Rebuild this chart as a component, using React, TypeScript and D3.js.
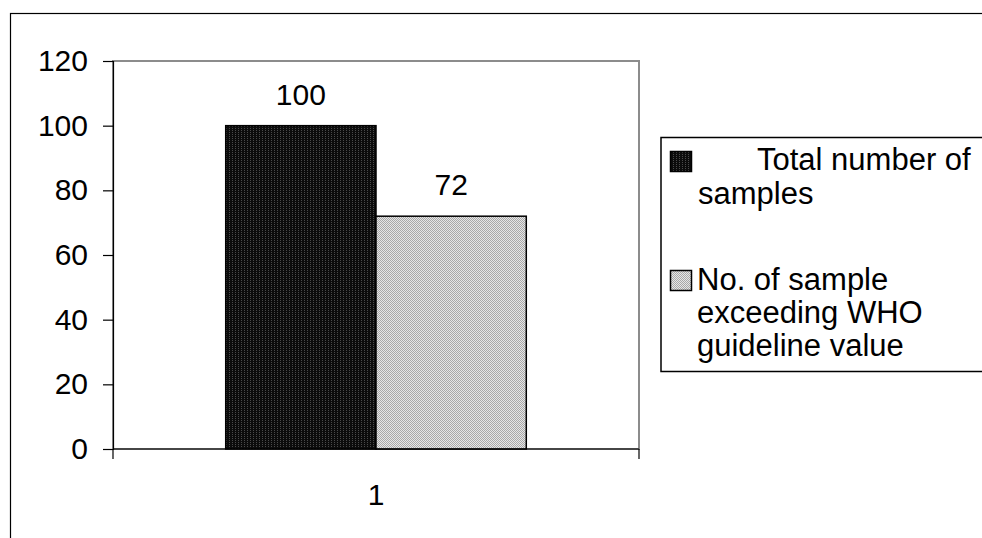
import * as d3 from 'd3'
import { useEffect, useRef } from 'react'

const categories = ['1']
const seriesNames = ['Total number of samples', 'No. of sample exceeding WHO guideline value']
const seriesValues = [100, 72]
const yTicks = [0, 20, 40, 60, 80, 100, 120]
const legendLines = [['Total number of', 'samples'], ['No. of sample', 'exceeding WHO', 'guideline value']]

const W = 982
const H = 538
const FONT = '"Liberation Sans", Arial, sans-serif'

const App = () => {
  const ref = useRef<SVGSVGElement>(null)

  useEffect(() => {
    const svg = d3.select(ref.current)
    svg.selectAll('*').remove()

    const plot = { left: 113, top: 61, right: 639, bottom: 449 }

    const defs = svg.append('defs')
    const dark = defs.append('pattern').attr('id', 'pDark').attr('patternUnits', 'userSpaceOnUse')
      .attr('width', 3).attr('height', 2)
    dark.append('rect').attr('width', 3).attr('height', 2).attr('fill', '#0c0c0c')
    dark.append('rect').attr('x', 1).attr('width', 1).attr('height', 1).attr('fill', '#4a4a4a')
    const light = defs.append('pattern').attr('id', 'pLight').attr('patternUnits', 'userSpaceOnUse')
      .attr('width', 2).attr('height', 2)
    light.append('rect').attr('width', 2).attr('height', 2).attr('fill', '#e6e6e6')
    light.append('rect').attr('width', 1).attr('height', 1).attr('fill', '#a8a8a8')
    light.append('rect').attr('x', 1).attr('y', 1).attr('width', 1).attr('height', 1).attr('fill', '#a8a8a8')
    const fills = ['url(#pDark)', 'url(#pLight)']

    // outer chart border
    svg.append('rect').attr('x', 10.5).attr('y', 13.5).attr('width', 1200).attr('height', 800)
      .attr('fill', '#fff').attr('stroke', '#000').attr('stroke-width', 1.2)

    const x0 = d3.scaleBand().domain(categories).range([plot.left, plot.right]).padding(0)
    const x1 = d3.scaleBand().domain(seriesNames).range([0, x0.bandwidth()]).paddingInner(0).paddingOuter(0.75)
    const y = d3.scaleLinear().domain([0, 120]).range([plot.bottom, plot.top])

    // plot area border
    svg.append('rect').attr('x', plot.left).attr('y', plot.top)
      .attr('width', plot.right - plot.left).attr('height', plot.bottom - plot.top)
      .attr('fill', 'none').attr('stroke', '#8c8c8c').attr('stroke-width', 2)

    // bars
    categories.forEach(c => {
      svg.selectAll(null).data(seriesValues).enter().append('rect')
        .attr('x', (d, i) => (x0(c) as number) + (x1(seriesNames[i]) as number))
        .attr('y', d => y(d))
        .attr('width', x1.bandwidth())
        .attr('height', d => y(0) - y(d))
        .attr('fill', (d, i) => fills[i])
        .attr('stroke', '#000').attr('stroke-width', 1.5)
      svg.selectAll(null).data(seriesValues).enter().append('text')
        .attr('x', (d, i) => (x0(c) as number) + (x1(seriesNames[i]) as number) + x1.bandwidth() / 2)
        .attr('y', d => y(d) - 21)
        .attr('text-anchor', 'middle')
        .attr('font-family', FONT).attr('font-size', 30)
        .text(d => d)
    })

    // y axis
    const yAxis = d3.axisLeft(y).tickValues(yTicks).tickSize(10).tickPadding(15)
    const gy = svg.append('g').attr('transform', `translate(${plot.left},0)`).call(yAxis)
    gy.select('.domain').attr('stroke', '#000').attr('stroke-width', 1.2)
    gy.selectAll('.tick line').attr('stroke', '#000').attr('stroke-width', 1.2)
    gy.selectAll('.tick text').attr('font-family', FONT).attr('font-size', 30).attr('fill', '#000')

    // x axis
    svg.append('line').attr('x1', plot.left).attr('x2', plot.right).attr('y1', plot.bottom).attr('y2', plot.bottom)
      .attr('stroke', '#000').attr('stroke-width', 1.2)
    const edges = [plot.left, ...categories.map(c => (x0(c) as number) + x0.bandwidth())]
    svg.selectAll(null).data(edges).enter().append('line')
      .attr('x1', d => d).attr('x2', d => d).attr('y1', plot.bottom).attr('y2', plot.bottom + 10)
      .attr('stroke', '#000').attr('stroke-width', 1.2)
    svg.selectAll(null).data(categories).enter().append('text')
      .attr('x', d => (x0(d) as number) + x0.bandwidth() / 2)
      .attr('y', plot.bottom + 56)
      .attr('text-anchor', 'middle')
      .attr('font-family', FONT).attr('font-size', 30)
      .text(d => d)

    // legend
    const lg = svg.append('g')
    lg.append('rect').attr('x', 661).attr('y', 137.5).attr('width', 400).attr('height', 234)
      .attr('fill', '#fff').attr('stroke', '#000').attr('stroke-width', 1.5)
    const swatchY = [151, 270]
    const textX = [[757, 698], [697, 697, 697]]
    const baselines = [[170, 204], [290, 323, 356]]
    seriesNames.forEach((s, i) => {
      lg.append('rect').attr('x', 670.5).attr('y', swatchY[i] + 0.5).attr('width', 21).attr('height', 20)
        .attr('fill', fills[i]).attr('stroke', '#000').attr('stroke-width', 1.5)
      legendLines[i].forEach((t, j) => {
        lg.append('text').attr('x', textX[i][j]).attr('y', baselines[i][j])
          .attr('font-family', FONT).attr('font-size', 31)
          .text(t)
      })
    })
  }, [])

  return (
    <svg ref={ref} width={W} height={H} style={{ position: 'absolute', left: 0, top: 0, background: '#fff' }} />
  )
}

export default App
